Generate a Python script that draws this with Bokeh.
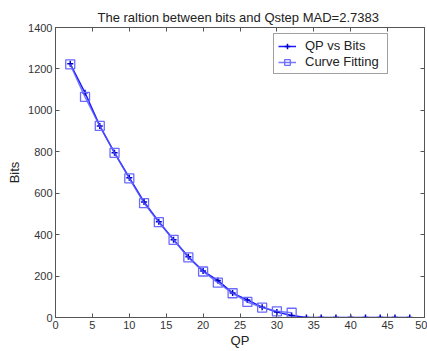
from bokeh.plotting import figure
from bokeh.models import LinearAxis, Range1d, Legend, LegendItem, FixedTicker, Title
from bokeh.embed import file_html
from bokeh.resources import INLINE

qp = [2, 4, 6, 8, 10, 12, 14, 16, 18, 20, 22, 24, 26, 28, 30, 32, 34, 36, 38, 40, 42, 44, 46, 48]
bits = [1225, 1085, 925, 795, 675, 558, 462, 375, 293, 224, 179, 118, 85, 50, 26, 10,
        0, 0, 0, 0, 0, 0, 0, 0]
qp_fit = [2, 4, 6, 8, 10, 12, 14, 16, 18, 20, 22, 24, 26, 28, 30, 32]
bits_fit = [1222, 1065, 925, 795, 672, 552, 460, 375, 290, 222, 168, 117, 75, 48, 30, 23]
x_ticks = [0, 5, 10, 15, 20, 25, 30, 35, 40, 45, 50]
y_ticks = [0, 200, 400, 600, 800, 1000, 1200, 1400]

FONT = "Liberation Sans"

p = figure(width=427, height=351, output_backend="svg", toolbar_location=None,
           x_range=Range1d(0, 50), y_range=Range1d(0, 1400),
           min_border_left=55, min_border_right=3, min_border_top=27, min_border_bottom=34)
p.title = Title(text="The raltion between bits and Qstep  MAD=2.7383", align="center",
                text_font=FONT, text_font_size="13px", text_font_style="normal",
                text_color="#222222", standoff=5)
p.grid.visible = False
p.outline_line_color = "#555555"
p.outline_line_width = 1

for ax in (p.xaxis[0], p.yaxis[0]):
    ax.major_tick_in = 4
    ax.major_tick_out = 0
    ax.minor_tick_in = 0
    ax.minor_tick_out = 0
    ax.axis_line_color = "#555555"
    ax.major_tick_line_color = "#555555"
    ax.major_label_text_font = FONT
    ax.major_label_text_font_size = "11px"
    ax.major_label_text_color = "#333333"
    ax.axis_label_text_font = FONT
    ax.axis_label_text_font_size = "13px"
    ax.axis_label_text_font_style = "normal"
    ax.axis_label_text_color = "#222222"
    ax.major_label_standoff = 3
    ax.axis_label_standoff = 3

p.xaxis[0].ticker = FixedTicker(ticks=x_ticks)
p.yaxis[0].ticker = FixedTicker(ticks=y_ticks)
p.xaxis[0].axis_label = "QP"
p.yaxis[0].axis_label = "Bits"
p.xaxis[0].axis_label_standoff = 1

for loc in ("above", "right"):
    ax = LinearAxis(ticker=FixedTicker(ticks=x_ticks if loc == "above" else y_ticks))
    ax.major_tick_in = 4
    ax.major_tick_out = 0
    ax.minor_tick_in = 0
    ax.minor_tick_out = 0
    ax.major_label_text_font_size = "0px"
    ax.major_label_text_color = None
    ax.major_label_standoff = 0
    ax.axis_line_color = "#555555"
    ax.major_tick_line_color = "#555555"
    p.add_layout(ax, loc)

blue = "#1a1aff"
l1 = p.line(qp, bits, line_color=blue, line_width=1.5)
m1 = p.scatter(qp, bits, marker="cross", size=6, line_color="#0000cc", line_width=1.5)
l2 = p.line(qp_fit, bits_fit, line_color="#5555ff", line_width=1.5, line_alpha=0.8)
m2 = p.scatter(qp_fit, bits_fit, marker="square", size=9, fill_color=None,
               line_color="#6a6aff", line_width=1.3)

legend = Legend(items=[LegendItem(label="QP vs Bits", renderers=[l1, m1]),
                       LegendItem(label="Curve Fitting", renderers=[l2, m2])],
                location=(218, 243), label_text_font=FONT, label_text_font_size="13px",
                label_text_color="#222222", border_line_color="#444444",
                glyph_width=18, glyph_height=14, label_height=14, label_width=78, spacing=1,
                padding=4, margin=0, label_standoff=9)
p.add_layout(legend)

open("out.html", "w").write(file_html(p, INLINE))
